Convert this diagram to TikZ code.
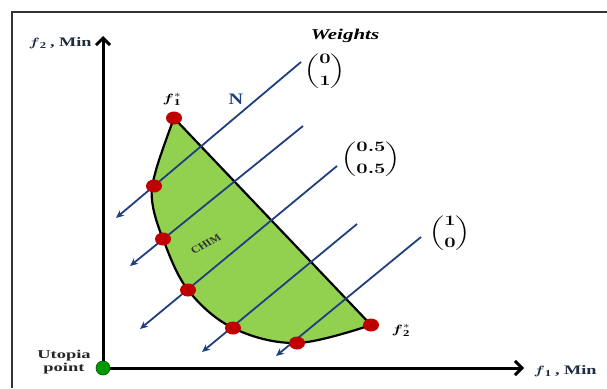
\documentclass[tikz,border=0pt]{standalone}
\usepackage{amsmath}
\usepackage{fontspec}
\setmainfont{Liberation Serif}
\usetikzlibrary{arrows.meta,shapes.geometric}
\definecolor{navy}{HTML}{1F3F7F}
\definecolor{txt}{HTML}{1F2A44}
\definecolor{leaf}{HTML}{92D050}
\definecolor{dotred}{HTML}{C00000}
\definecolor{dotgreen}{HTML}{009A00}
\newcommand{\wvec}[2]{\ensuremath{\boldsymbol{\dbinom{\mathbf{#1}}{\mathbf{#2}}}}}
\tikzset{
  reddot/.style={ellipse,fill=dotred,minimum width=16pt,minimum height=13pt,inner sep=0pt},
  wline/.style={navy,line width=1.8pt,-{Stealth[length=8pt,width=7pt]}},
  axis/.style={black,line width=3pt,-{Straight Barb[length=7pt,width=14pt,line width=3pt]}},
  lbl/.style={font=\bfseries,text=txt,inner sep=1pt,xscale=1.4},
  wlab/.style={text=black,inner sep=0pt,font=\fontsize{14.5}{16}\selectfont,xscale=1.4},
}
\begin{document}
\begin{tikzpicture}[x=1pt,y=-1pt]
\useasboundingbox (0,0) rectangle (607,388);
\fill[white] (0,0) rectangle (607,388);
% frame
\draw[line width=1.5pt,black!80] (12,388) -- (12,12) -- (607,12);
% region
\fill[leaf,draw=black,line width=2.2pt]
  plot[smooth,tension=0.6] coordinates {(174,118) (156,170) (152,200) (163,239) (188,290) (233,328) (297,343) (371,325)} -- cycle;
% axes
\coordinate (O) at (103,368);
\coordinate (ytip) at (103,36);
\coordinate (xtip) at (524,368);
\draw[axis] (O) -- (ytip);
\draw[axis] (O) -- (xtip);
\node[circle,fill=dotgreen,draw=dotgreen!60!black,line width=0.6pt,minimum size=14pt,inner sep=0pt] (utopia) at (O) {};
% weight lines
\coordinate (a1s) at (301,62);  \coordinate (a1e) at (116,218);
\coordinate (a2s) at (303,126); \coordinate (a2e) at (130,266);
\coordinate (a3s) at (337,166); \coordinate (a3e) at (140,329);
\coordinate (a4s) at (357,224); \coordinate (a4e) at (202,352);
\coordinate (a5s) at (421,237); \coordinate (a5e) at (276,356);
\draw[wline] (a1s) -- (a1e);
\draw[wline] (a2s) -- (a2e);
\draw[wline] (a3s) -- (a3e);
\draw[wline] (a4s) -- (a4e);
\draw[wline] (a5s) -- (a5e);
% red dots
\node[reddot] (f1) at (174,118) {};
\node[reddot] (d1) at (154,186) {};
\node[reddot] (d2) at (163,239) {};
\node[reddot] (d3) at (188,290) {};
\node[reddot] (d4) at (233,328) {};
\node[reddot] (d5) at (297,343) {};
\node[reddot] (f2) at (371,325) {};
% labels
\node[lbl,font=\bfseries\fontsize{13}{14}\selectfont] (ylab) at (60,43) {$\boldsymbol{f}_{\mathbf{2}}$\,, Min};
\node[lbl,font=\bfseries\fontsize{13}{14}\selectfont] (xlab) at (565,371) {$\boldsymbol{f}_{\mathbf{1}}$\,, Min};
\node[lbl,font=\bfseries\fontsize{12}{13}\selectfont,align=center,text=black!85,xscale=1.1] (uplab) at (64,362) {Utopia\\point};
\node[lbl,text=black,font=\bfseries\fontsize{13}{14}\selectfont] (f1lab) at (172,99) {$\boldsymbol{f}_{\mathbf{1}}^{*}$};
\node[lbl,text=black,font=\bfseries\fontsize{13}{14}\selectfont] (f2lab) at (401,330) {$\boldsymbol{f}_{\mathbf{2}}^{*}$};
\node[lbl,text=navy,font=\bfseries\fontsize{16}{17}\selectfont,xscale=0.9] (N) at (236,99) {N};
\node[lbl,text=black!80,font=\bfseries\fontsize{10}{11}\selectfont,xscale=0.85,rotate=34] (chim) at (206,244) {CHIM};
\node[lbl,text=black,font=\bfseries\itshape\fontsize{15}{16}\selectfont] (wts) at (345,36) {Weights};
\node[wlab] (w1) at (325,71) {\wvec{0}{1}};
\node[wlab] (w2) at (371,159) {\wvec{0.5}{0.5}};
\node[wlab] (w3) at (450,233) {\wvec{1}{0}};
\end{tikzpicture}
\end{document}
